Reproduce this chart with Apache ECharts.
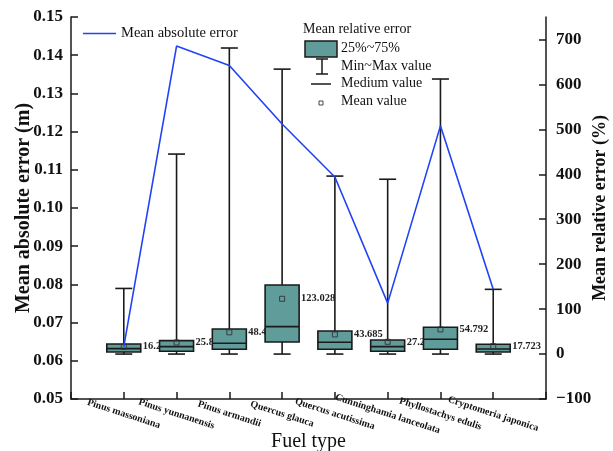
<!DOCTYPE html>
<html>
<head>
<meta charset="utf-8">
<script src="https://cdn.jsdelivr.net/npm/echarts@6/dist/echarts.min.js"></script>
<style>html,body{margin:0;padding:0;background:#fff;}#c{width:613px;height:451px;}</style>
</head>
<body>
<div id="c"></div>
<script>
// ---- data ----
const fuelTypes = ['Pinus massoniana','Pinus yunnanensis','Pinus armandii','Quercus glauca','Quercus acutissima','Cunninghamia lanceolata','Phyllostachys edulis','Cryptomeria japonica'];
const meanAbsError = [0.0637, 0.1424, 0.1373, 0.1220, 0.1081, 0.0751, 0.1215, 0.0787];
const relMin    = [0, 0, 0, 0, 0, 0, 0, 0];
const relQ1     = [4.7, 6.2, 10.7, 26.9, 10.7, 6.2, 10.7, 4.7];
const relMedian = [12, 16.5, 24, 61, 26.3, 16.5, 33, 11.3];
const relQ3     = [22.5, 29.8, 55.7, 153.8, 51.4, 31.4, 59.6, 21.8];
const relMax    = [146, 445, 681, 634, 396, 389, 612, 144];
const relMean   = [16.27, 25.80, 48.41, 123.028, 43.685, 27.23, 54.792, 17.723];
const leftTicks = {min: 0.05, max: 0.15, interval: 0.01};
const rightTicks = {min: -100, max: 750, interval: 100};

// ---- build ----
const FONT = '"Liberation Serif","Times New Roman",serif';
const cats = [''].concat(fuelTypes, ['']);
const lineData = meanAbsError.map((v, i) => [i + 1, v]);
const boxData = fuelTypes.map((_, i) => [i + 1, relMin[i], relQ1[i], relMedian[i], relQ3[i], relMax[i], relMean[i]]);
const BOX_FILL = '#609c99';
const EDGE = '#1a1a1a';
const LINE_COL = '#2242f5';

function renderBox(params, api) {
  const x = api.value(0);
  const pMin = api.coord([x, api.value(1)]);
  const pQ1 = api.coord([x, api.value(2)]);
  const pMed = api.coord([x, api.value(3)]);
  const pQ3 = api.coord([x, api.value(4)]);
  const pMax = api.coord([x, api.value(5)]);
  const pMean = api.coord([x, api.value(6)]);
  const cx = pMin[0];
  const bw = 34, cw = 17, ms = 5;
  const st = {stroke: EDGE, lineWidth: 1.6, fill: null};
  return {
    type: 'group',
    children: [
      {type: 'line', shape: {x1: cx, y1: pMax[1], x2: cx, y2: pMin[1]}, style: st},
      {type: 'line', shape: {x1: cx - cw / 2, y1: pMax[1], x2: cx + cw / 2, y2: pMax[1]}, style: st},
      {type: 'line', shape: {x1: cx - cw / 2, y1: pMin[1], x2: cx + cw / 2, y2: pMin[1]}, style: st},
      {type: 'rect', shape: {x: cx - bw / 2, y: pQ3[1], width: bw, height: pQ1[1] - pQ3[1]}, style: {fill: BOX_FILL, stroke: EDGE, lineWidth: 1.6}},
      {type: 'line', shape: {x1: cx - bw / 2, y1: pMed[1], x2: cx + bw / 2, y2: pMed[1]}, style: st},
      {type: 'rect', shape: {x: cx - ms / 2, y: pMean[1] - ms / 2, width: ms, height: ms}, style: {fill: null, stroke: '#333', lineWidth: 0.9}},
      {type: 'text', x: cx + bw / 2 + 2, y: pMean[1], style: {text: api.value(6).toFixed(3), fill: '#222', font: 'bold 10.5px ' + FONT, textAlign: 'left', textVerticalAlign: 'middle'}}
    ]
  };
}

const chart = echarts.init(document.getElementById('c'), null, {renderer: 'canvas'});
const textCol = '#111';
chart.setOption({
  backgroundColor: '#fff',
  animation: false,
  grid: {left: 71, right: 67, top: 17, bottom: 52, containLabel: false, outerBoundsMode: 'none'},
  legend: {
    data: ['Mean absolute error'], left: 83, top: 26, padding: 0, icon: 'rect', itemWidth: 33, itemHeight: 1.6,
    textStyle: {fontFamily: FONT, fontSize: 14.5, color: textCol}
  },
  xAxis: {
    type: 'category', data: cats, boundaryGap: false,
    axisLine: {onZero: false, lineStyle: {color: EDGE, width: 1.5}},
    axisTick: {inside: true, length: 7, lineStyle: {color: EDGE, width: 1.5}},
    axisLabel: {interval: 0, rotate: -18, align: 'center', verticalAlign: 'middle', margin: 15, fontFamily: FONT, fontWeight: 'bold', fontSize: 10, color: textCol},
    splitLine: {show: false},
    name: 'Fuel type', nameLocation: 'middle', nameGap: 33, nameMoveOverlap: false,
    nameTextStyle: {fontFamily: FONT, fontSize: 20, color: textCol}
  },
  yAxis: [
    {
      type: 'value', position: 'left', min: leftTicks.min, max: leftTicks.max, interval: leftTicks.interval,
      axisLine: {show: true, onZero: false, lineStyle: {color: EDGE, width: 1.5}},
      axisTick: {show: true, inside: true, length: 7, lineStyle: {color: EDGE, width: 1.5}},
      axisLabel: {margin: 8, fontFamily: FONT, fontWeight: 'bold', fontSize: 17, color: textCol, formatter: v => v.toFixed(2)},
      splitLine: {show: false},
      name: 'Mean absolute error (m)', nameLocation: 'middle', nameGap: 37, nameMoveOverlap: false,
      nameTextStyle: {fontFamily: FONT, fontWeight: 'bold', fontSize: 20, color: textCol}
    },
    {
      type: 'value', position: 'right', min: rightTicks.min, max: rightTicks.max, interval: rightTicks.interval,
      axisLine: {show: true, onZero: false, lineStyle: {color: EDGE, width: 1.5}},
      axisTick: {show: true, inside: true, length: 7, lineStyle: {color: EDGE, width: 1.5}},
      axisLabel: {margin: 10, showMaxLabel: false, fontFamily: FONT, fontWeight: 'bold', fontSize: 17, color: textCol,
        formatter: v => (v % 100 === 0 ? String(v).replace('-', '\u2212') : '')},
      splitLine: {show: false},
      name: 'Mean relative error (%)', nameLocation: 'middle', nameGap: 45, nameMoveOverlap: false,
      nameTextStyle: {fontFamily: FONT, fontWeight: 'bold', fontSize: 18, color: textCol}
    }
  ],
  series: [
    {type: 'custom', name: 'Mean relative error', yAxisIndex: 1, z: 2, data: boxData, renderItem: renderBox,
     encode: {x: 0, y: [1, 2, 3, 4, 5, 6]}},
    {type: 'line', name: 'Mean absolute error', yAxisIndex: 0, z: 5, data: lineData, symbol: 'none',
     lineStyle: {color: LINE_COL, width: 1.6}, itemStyle: {color: LINE_COL}}
  ],
  graphic: [
    {type: 'text', left: 303, top: 22, style: {text: 'Mean relative error', font: '14px ' + FONT, fill: textCol}},
    {type: 'rect', shape: {x: 305, y: 41, width: 32, height: 16}, style: {fill: BOX_FILL, stroke: EDGE, lineWidth: 1.5}},
    {type: 'line', shape: {x1: 322, y1: 59, x2: 322, y2: 74}, style: {stroke: EDGE, lineWidth: 1.5}},
    {type: 'line', shape: {x1: 316, y1: 59, x2: 328, y2: 59}, style: {stroke: EDGE, lineWidth: 1.5}},
    {type: 'line', shape: {x1: 316, y1: 74, x2: 328, y2: 74}, style: {stroke: EDGE, lineWidth: 1.5}},
    {type: 'line', shape: {x1: 311, y1: 84, x2: 331, y2: 84}, style: {stroke: EDGE, lineWidth: 1.5}},
    {type: 'rect', shape: {x: 319, y: 101, width: 4, height: 4}, style: {fill: null, stroke: '#333', lineWidth: 0.9}},
    {type: 'text', left: 341, top: 41, style: {text: '25%~75%', font: '14px ' + FONT, fill: textCol}},
    {type: 'text', left: 341, top: 59, style: {text: 'Min~Max value', font: '14px ' + FONT, fill: textCol}},
    {type: 'text', left: 341, top: 76, style: {text: 'Medium value', font: '14px ' + FONT, fill: textCol}},
    {type: 'text', left: 341, top: 94, style: {text: 'Mean value', font: '14px ' + FONT, fill: textCol}}
  ]
});
</script>
</body>
</html>
